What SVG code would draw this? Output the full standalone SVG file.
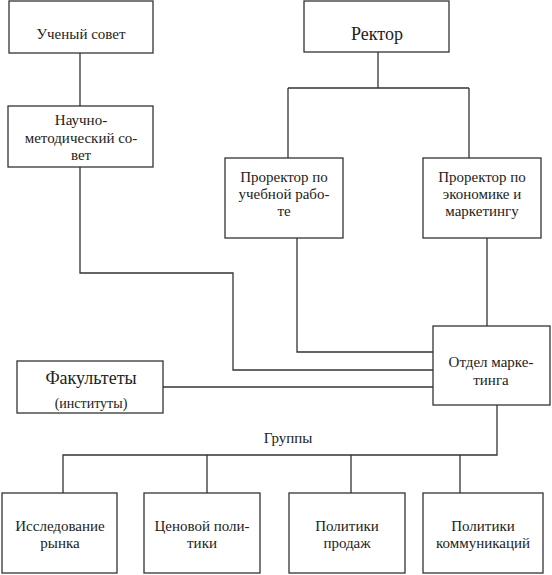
<svg xmlns="http://www.w3.org/2000/svg" width="552" height="575" viewBox="0 0 552 575">
<style>
.box{fill:#fff;stroke:#333;stroke-width:1.3}
.ln{fill:none;stroke:#333;stroke-width:1.3}
.t{font-family:Liberation Serif,DejaVu Serif,serif;fill:#222;text-anchor:middle;font-size:15px}
.big{font-size:18px}
.small{font-size:14px}
</style>
<rect width="552" height="575" fill="#fff"/>
<g id="connectors">
<path class="ln" d="M80 53V106"/>
<path class="ln" d="M80 167V273H233V370H433"/>
<path class="ln" d="M378 52V88M288 88H469M288 88V158M469 88V158"/>
<path class="ln" d="M297 238V352H433"/>
<path class="ln" d="M487 238V326"/>
<path class="ln" d="M163 387H433"/>
<path class="ln" d="M497 405V455H63V493M207 455V493M351 455V493M460 455V493"/>
</g>
<g id="uchenyi"><rect class="box" x="9" y="1" width="144" height="52"/><text class="t" x="81" y="39">Ученый совет</text></g>
<g id="nauchno"><rect class="box" x="8" y="106" width="145" height="61"/><text class="t" x="81" y="125">Научно-</text><text class="t" x="81" y="143">методический со-</text><text class="t" x="81" y="160">вет</text></g>
<g id="rektor"><rect class="box" x="304" y="1" width="145" height="51"/><text class="t big" x="377" y="40">Ректор</text></g>
<g id="prorektor1"><rect class="box" x="225" y="158" width="118" height="80"/><text class="t" x="284" y="182">Проректор по</text><text class="t" x="284" y="199">учебной рабо-</text><text class="t" x="284" y="216">те</text></g>
<g id="prorektor2"><rect class="box" x="423" y="158" width="118" height="80"/><text class="t" x="482" y="182">Проректор по</text><text class="t" x="482" y="199">экономике и</text><text class="t" x="482" y="216">маркетингу</text></g>
<g id="otdel"><rect class="box" x="433" y="326" width="117" height="79"/><text class="t" x="491" y="367">Отдел марке-</text><text class="t" x="491" y="385">тинга</text></g>
<g id="fakultety"><rect class="box" x="17" y="361" width="146" height="52"/><text class="t big" x="91" y="384">Факультеты</text><text class="t small" x="91" y="408">(институты)</text></g>
<g id="gruppy"><text class="t" x="288" y="443">Группы</text></g>
<g id="g1"><rect class="box" x="2" y="493" width="115" height="80"/><text class="t" x="60" y="531">Исследование</text><text class="t" x="60" y="548">рынка</text></g>
<g id="g2"><rect class="box" x="144" y="493" width="116" height="80"/><text class="t" x="202" y="531">Ценовой поли-</text><text class="t" x="202" y="548">тики</text></g>
<g id="g3"><rect class="box" x="289" y="493" width="116" height="80"/><text class="t" x="347" y="531">Политики</text><text class="t" x="347" y="548">продаж</text></g>
<g id="g4"><rect class="box" x="423" y="493" width="120" height="80"/><text class="t" x="483" y="531">Политики</text><text class="t" x="483" y="548">коммуникаций</text></g>
</svg>
